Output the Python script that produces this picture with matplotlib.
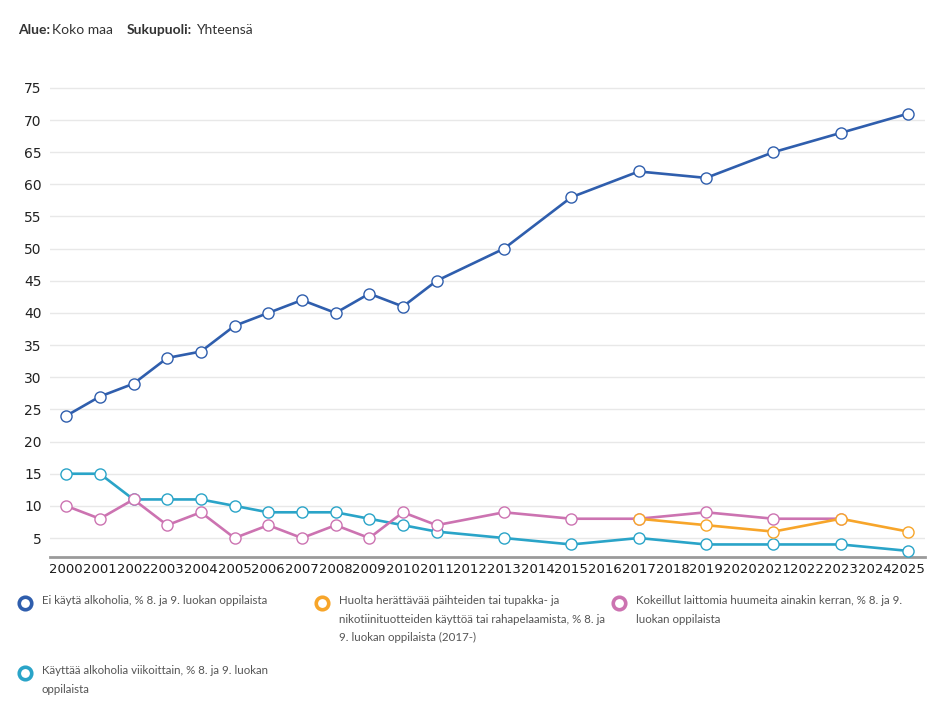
import matplotlib.pyplot as plt
from matplotlib.lines import Line2D

# data
years_all = [2000, 2001, 2002, 2003, 2004, 2005, 2006, 2007, 2008, 2009, 2010,
             2011, 2013, 2015, 2017, 2019, 2021, 2023, 2025]
ei_kayta = [24, 27, 29, 33, 34, 38, 40, 42, 40, 43, 41, 45, 50, 58, 62, 61, 65, 68, 71]
viikoittain = [15, 15, 11, 11, 11, 10, 9, 9, 9, 8, 7, 6, 5, 4, 5, 4, 4, 4, 3]

years_huumeet = [2000, 2001, 2002, 2003, 2004, 2005, 2006, 2007, 2008, 2009, 2010,
                 2011, 2013, 2015, 2017, 2019, 2021, 2023]
huumeet = [10, 8, 11, 7, 9, 5, 7, 5, 7, 5, 9, 7, 9, 8, 8, 9, 8, 8]

years_huolta = [2017, 2019, 2021, 2023, 2025]
huolta = [8, 7, 6, 8, 6]

x_ticks = list(range(2000, 2026))
y_ticks = list(range(5, 80, 5))

labels = [
    'Ei käytä alkoholia, % 8. ja 9. luokan oppilaista',
    'Huolta herättävää päihteiden tai tupakka- ja\nnikotiinituotteiden käyttöä tai rahapelaamista, % 8. ja\n9. luokan oppilaista (2017-)',
    'Kokeillut laittomia huumeita ainakin kerran, % 8. ja 9.\nluokan oppilaista',
    'Käyttää alkoholia viikoittain, % 8. ja 9. luokan\noppilaista',
]

c_blue = '#2f5ead'
c_orange = '#f7a52a'
c_pink = '#cc73b1'
c_teal = '#2aa4c8'

fig = plt.figure(figsize=(9.51, 7.22), dpi=100)
ax = fig.add_axes([50/951, 1 - 557/722, 875/951, (557 - 75)/722])

def draw(x, y, c, z):
    ax.plot(x, y, color=c, lw=1.9, zorder=z, marker='o', markersize=8,
            markerfacecolor='white', markeredgecolor=c, markeredgewidth=1.0)

draw(years_all, viikoittain, c_teal, 3)
draw(years_huumeet, huumeet, c_pink, 4)
draw(years_huolta, huolta, c_orange, 5)
draw(years_all, ei_kayta, c_blue, 6)

ax.set_xlim(1999.52, 2025.5)
ax.set_ylim(2.05, 77)
ax.set_xticks(x_ticks)
ax.set_xticklabels([str(v) for v in x_ticks], fontsize=9.5, color='#1a1a1a')
ax.set_yticks(y_ticks)
ax.set_yticklabels([str(v) for v in y_ticks], fontsize=10, color='#222222')
ax.tick_params(axis='both', length=0)
ax.tick_params(axis='x', pad=4)
ax.tick_params(axis='y', pad=6)
ax.grid(axis='y', color='#e8e8e8', lw=1)
ax.set_axisbelow(True)
for s in ['top', 'right', 'left']:
    ax.spines[s].set_visible(False)
ax.spines['bottom'].set_color('#9a9a9a')
ax.spines['bottom'].set_linewidth(2)

# header
hy = 1 - 30/722
fig.text(18/951, hy, 'Alue:', fontsize=10, fontweight='bold', color='#333333',
         va='center', family='Lato')
fig.text(52/951, hy, 'Koko maa', fontsize=10, color='#333333',
         va='center', family='Lato')
fig.text(127/951, hy, 'Sukupuoli:', fontsize=10, fontweight='bold',
         color='#333333', va='center', family='Lato')
fig.text(196/951, hy, 'Yhteensä', fontsize=10, color='#333333',
         va='center', family='Lato')

# legend
legend_pos = [(25, 603), (322, 603), (619, 603), (25, 673)]
legend_cols = [c_blue, c_orange, c_pink, c_teal]
for (lx, ly), c, lab in zip(legend_pos, legend_cols, labels):
    fig.add_artist(Line2D([lx/951], [1 - ly/722], transform=fig.transFigure,
                          marker='o', markersize=9, markerfacecolor='white',
                          markeredgecolor=c, markeredgewidth=2.6))
    fig.text((lx + 17)/951, 1 - (ly - 8)/722, lab, fontsize=8.3, color='#555555',
             va='top', linespacing=1.85, family='Lato')

fig.savefig('out.png', dpi=100)
